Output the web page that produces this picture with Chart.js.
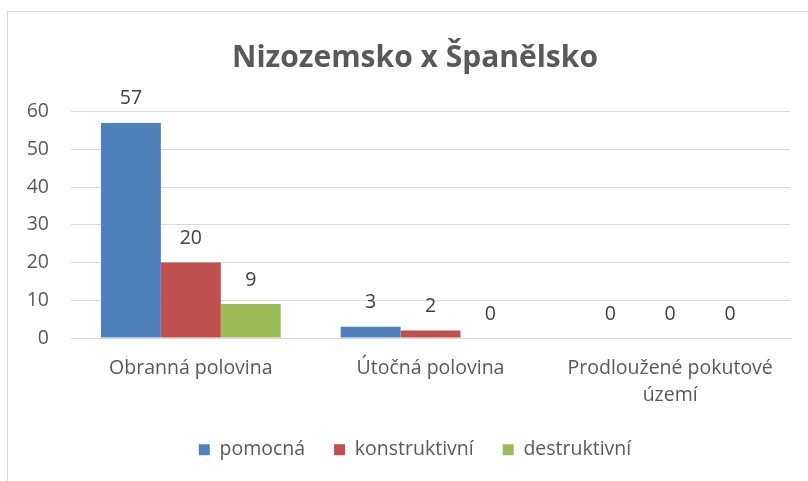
<!DOCTYPE html>
<html>
<head>
<meta charset="utf-8">
<script src="https://cdn.jsdelivr.net/npm/chart.js@4"></script>
<style>
  html, body { margin: 0; padding: 0; background: #fff; overflow: hidden; }
  #wrap { position: relative; width: 808px; height: 481px; overflow: hidden; }
  #frame { position: absolute; left: 7px; top: 11px; width: 900px; height: 600px; border: 1px solid #d9d9d9; box-sizing: border-box; }
  #c { position: absolute; left: 0; top: 0; }
</style>
</head>
<body>
<div id="wrap">
  <div id="frame"></div>
  <canvas id="c" width="830" height="481"></canvas>
</div>
<script>
const categories = ['Obranná polovina', 'Útočná polovina', ['Prodloužené pokutové', 'území']];
const seriesNames = ['pomocná', 'konstruktivní', 'destruktivní'];
const pomocna = [57, 3, 0];
const konstruktivni = [20, 2, 0];
const destruktivni = [9, 0, 0];
const yTicks = [0, 10, 20, 30, 40, 50, 60];

const colors = ['#4F81BD', '#C0504D', '#9BBB59'];
const textColor = '#595959';
const font = '"Open Sans", "Noto Sans", sans-serif';
const size = 19.5;

// draws the value above each bar
const valueLabels = {
  id: 'valueLabels',
  afterDatasetsDraw(chart) {
    const ctx = chart.ctx;
    ctx.save();
    ctx.fillStyle = '#404040';
    ctx.font = size + 'px ' + font;
    ctx.textAlign = 'center';
    ctx.textBaseline = 'middle';
    chart.data.datasets.forEach((ds, i) => {
      chart.getDatasetMeta(i).data.forEach((bar, j) => {
        ctx.fillText(ds.data[j], bar.x, bar.y - 24);
      });
    });
    ctx.restore();
  }
};

new Chart(document.getElementById('c'), {
  type: 'bar',
  data: {
    labels: categories,
    datasets: [
      { label: seriesNames[0], data: pomocna, backgroundColor: colors[0] },
      { label: seriesNames[1], data: konstruktivni, backgroundColor: colors[1] },
      { label: seriesNames[2], data: destruktivni, backgroundColor: colors[2] }
    ]
  },
  options: {
    responsive: false,
    animation: false,
    categoryPercentage: 0.75,
    barPercentage: 1,
    layout: { padding: { left: 0, right: 0, top: 11, bottom: 11.5 } },
    scales: {
      x: {
        grid: { display: false },
        border: { color: '#d9d9d9' },
        ticks: { color: textColor, font: { family: font, size: size, lineHeight: 1.43 }, padding: 8, maxRotation: 0 },
        afterFit: s => { s.height = 73; }
      },
      y: {
        min: 0, max: 60,
        afterBuildTicks: s => { s.ticks = yTicks.map(v => ({ value: v })); },
        grid: { color: '#d9d9d9', drawTicks: false },
        border: { display: false },
        ticks: { color: textColor, font: { family: font, size: size }, padding: 22 },
        afterFit: s => { s.width = 71; }
      },
      // empty space on the right so the title sits where the frame centre is
      spacer: {
        type: 'linear',
        position: 'right',
        grid: { display: false },
        border: { display: false },
        ticks: { display: false },
        afterFit: s => { s.width = 40; }
      }
    },
    plugins: {
      title: {
        display: true,
        text: 'Nizozemsko x Španělsko',
        color: textColor,
        font: { family: font, size: 30, weight: 'bold' },
        padding: { top: 29, bottom: 35.6 }
      },
      legend: {
        position: 'bottom',
        labels: { color: textColor, font: { family: font, size: size }, boxWidth: 11, boxHeight: 11, padding: 29 }
      },
      tooltip: { enabled: false }
    }
  },
  plugins: [valueLabels]
});
</script>
</body>
</html>
